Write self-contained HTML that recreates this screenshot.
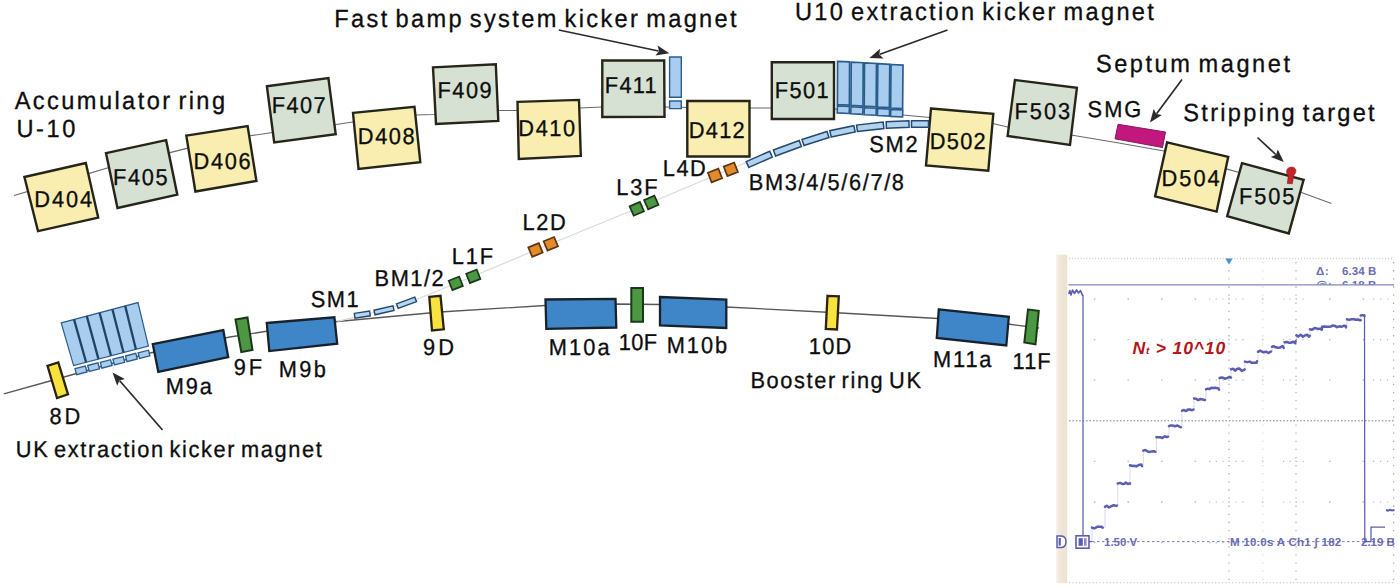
<!DOCTYPE html>
<html lang="en">
<head>
<meta charset="utf-8">
<title>U-10 accumulator ring and UK booster ring layout</title>
<style>
html,body{margin:0;padding:0;background:#fff;}
body{width:1400px;height:588px;overflow:hidden;position:relative;font-family:"Liberation Sans",sans-serif;}
svg{position:absolute;left:0;top:0;display:block;}
svg text{font-family:"Liberation Sans",sans-serif;fill:#0d0d0d;white-space:pre;text-rendering:geometricPrecision;stroke:#0d0d0d;stroke-width:0.3px;}
svg text.scope{fill:#5256a6;font-size:11.5px;font-weight:bold;stroke:none;opacity:.85;}
svg text.red{fill:#b3161b;font-weight:bold;font-style:italic;stroke:none;}
</style>
</head>
<body>
<svg width="1400" height="588" viewBox="0 0 1400 588">
<defs><linearGradient id="beige" x1="0" y1="0" x2="1" y2="0"><stop offset="0" stop-color="#f8f4ec"/><stop offset="0.35" stop-color="#efe7d8"/><stop offset="1" stop-color="#ebe2d0"/></linearGradient><clipPath id="clipTop"><rect x="1300" y="270" width="100" height="14.5"/></clipPath></defs>
<g id="diagram">
<polyline points="14.0,195.5 88.6,173.6 106.4,168.3 170.0,152.6 185.7,148.6 250.0,135.8 272.5,132.5 336.3,124.5 352.5,122.0 415.5,115.0 433.8,114.5 498.8,110.5 516.3,110.5 580.0,108.0 601.8,107.0 665.0,107.0 690.0,107.5 750.0,108.0 770.8,108.0 835.0,109.0 902.5,115.0 930.0,117.5 993.8,123.8 1007.5,127.0 1071.0,135.0 1116.0,142.5 1164.0,151.0 1228.0,169.4 1237.5,172.0 1301.5,192.6 1331.4,203.5" fill="none" stroke="#6a6a6a" stroke-width="1.1" />
<polyline points="3.8,393.8 50.0,381.0 110.0,364.0 150.0,353.0 230.0,337.0 300.0,326.0 337.5,321.5 440.0,312.0 545.0,305.5 616.0,304.0 660.0,304.5 726.0,307.0 832.0,312.5 938.0,318.5 1008.0,324.0 1039.0,328.0" fill="none" stroke="#585858" stroke-width="1.3" />
<polyline points="337.5,321.3 380.0,311.0 420.0,298.0 464.0,280.0 543.0,247.0 644.0,205.5 723.0,172.0 760.0,157.0" fill="none" stroke="#d9d9d9" stroke-width="1.2" />
<polygon points="24.4,177.0 85.8,163.0 98.2,217.6 38.0,231.1" fill="#f9edb0" stroke="#25251a" stroke-width="2.4" stroke-linejoin="miter"/>
<polygon points="106.0,153.1 166.1,140.2 177.3,194.7 117.5,208.0" fill="#d6e1d3" stroke="#25251a" stroke-width="2.4" stroke-linejoin="miter"/>
<polygon points="186.3,135.6 247.6,126.0 256.4,180.9 195.4,191.5" fill="#f9edb0" stroke="#25251a" stroke-width="2.4" stroke-linejoin="miter"/>
<polygon points="266.9,86.2 328.4,78.0 335.7,134.1 274.2,142.5" fill="#d6e1d3" stroke="#25251a" stroke-width="2.4" stroke-linejoin="miter"/>
<polygon points="353.0,112.9 414.5,106.8 420.3,162.1 358.5,169.0" fill="#f9edb0" stroke="#25251a" stroke-width="2.4" stroke-linejoin="miter"/>
<polygon points="433.0,67.4 495.8,64.3 498.3,120.9 436.0,124.0" fill="#d6e1d3" stroke="#25251a" stroke-width="2.4" stroke-linejoin="miter"/>
<polygon points="517.5,101.9 579.0,99.9 580.8,155.9 518.8,159.0" fill="#f9edb0" stroke="#25251a" stroke-width="2.4" stroke-linejoin="miter"/>
<polygon points="602.3,60.5 664.2,60.5 664.5,116.8 602.3,117.0" fill="#d6e1d3" stroke="#25251a" stroke-width="2.4" stroke-linejoin="miter"/>
<polygon points="687.3,101.0 749.5,101.0 749.5,156.5 687.3,156.5" fill="#f9edb0" stroke="#25251a" stroke-width="2.4" stroke-linejoin="miter"/>
<polygon points="771.8,62.3 834.0,62.3 834.0,119.0 771.8,119.0" fill="#d6e1d3" stroke="#25251a" stroke-width="2.4" stroke-linejoin="miter"/>
<polygon points="931.0,108.5 993.3,113.9 988.3,170.8 926.0,165.4" fill="#f9edb0" stroke="#25251a" stroke-width="2.4" stroke-linejoin="miter"/>
<polygon points="1014.9,80.0 1076.9,87.9 1070.0,145.0 1007.6,135.9" fill="#d6e1d3" stroke="#25251a" stroke-width="2.4" stroke-linejoin="miter"/>
<polygon points="1167.1,142.3 1228.2,156.9 1216.6,211.6 1155.1,196.4" fill="#f9edb0" stroke="#25251a" stroke-width="2.4" stroke-linejoin="miter"/>
<polygon points="1242.0,163.2 1303.6,179.8 1288.8,233.4 1227.2,216.2" fill="#d6e1d3" stroke="#25251a" stroke-width="2.4" stroke-linejoin="miter"/>
<polygon points="669.6,57.0 681.3,57.0 681.3,97.3 669.6,97.3" fill="#a9cdee" stroke="#2a5c8c" stroke-width="1.4" />
<polygon points="669.6,101.0 681.3,101.0 681.3,108.6 669.6,108.6" fill="#a9cdee" stroke="#2a5c8c" stroke-width="1.4" />
<polygon points="837.6,61.3 849.6,61.9 849.4,105.1 837.4,104.5" fill="#a9cdee" stroke="#2a5c8c" stroke-width="1.7" />
<polygon points="837.4,105.9 849.4,106.5 849.2,113.5 837.2,112.9" fill="#a9cdee" stroke="#2a5c8c" stroke-width="1.6" />
<polygon points="851.2,62.1 863.2,62.7 863.0,106.0 851.0,105.4" fill="#a9cdee" stroke="#2a5c8c" stroke-width="1.7" />
<polygon points="851.0,106.8 863.0,107.4 862.8,114.4 850.8,113.8" fill="#a9cdee" stroke="#2a5c8c" stroke-width="1.6" />
<polygon points="864.5,62.9 876.5,63.5 876.2,106.8 864.2,106.2" fill="#a9cdee" stroke="#2a5c8c" stroke-width="1.7" />
<polygon points="864.3,107.7 876.3,108.2 876.1,115.2 864.1,114.7" fill="#a9cdee" stroke="#2a5c8c" stroke-width="1.6" />
<polygon points="877.8,63.7 889.8,64.3 889.4,107.7 877.4,107.1" fill="#a9cdee" stroke="#2a5c8c" stroke-width="1.7" />
<polygon points="877.6,108.5 889.6,109.1 889.4,116.1 877.4,115.5" fill="#a9cdee" stroke="#2a5c8c" stroke-width="1.6" />
<polygon points="891.0,64.5 903.0,65.1 902.6,108.6 890.6,108.0" fill="#a9cdee" stroke="#2a5c8c" stroke-width="1.7" />
<polygon points="890.8,109.4 902.8,110.0 902.6,117.0 890.6,116.4" fill="#a9cdee" stroke="#2a5c8c" stroke-width="1.6" />
<polygon points="748.8,167.4 772.3,157.1 769.7,151.3 746.2,161.6" fill="#b2d3ef" stroke="#234a6e" stroke-width="1.5" />
<polygon points="775.6,156.0 801.4,146.5 799.2,140.5 773.4,150.0" fill="#b2d3ef" stroke="#234a6e" stroke-width="1.5" />
<polygon points="804.0,145.5 829.0,137.5 827.0,131.5 802.0,139.5" fill="#b2d3ef" stroke="#234a6e" stroke-width="1.5" />
<polygon points="831.2,136.9 855.2,131.9 853.8,125.7 829.8,130.7" fill="#b2d3ef" stroke="#234a6e" stroke-width="1.5" />
<polygon points="857.4,131.5 883.9,128.5 883.1,122.1 856.6,125.1" fill="#b2d3ef" stroke="#234a6e" stroke-width="1.5" />
<polygon points="886.4,128.2 909.1,127.2 908.9,120.8 886.2,121.8" fill="#b2d3ef" stroke="#234a6e" stroke-width="1.5" />
<polygon points="911.5,127.2 928.5,127.2 928.5,120.8 911.5,120.8" fill="#b2d3ef" stroke="#234a6e" stroke-width="1.5" />
<polygon points="1118.0,124.3 1165.5,132.0 1162.5,147.5 1115.0,138.8" fill="#c2187d" stroke="#8a1560" stroke-width="1" />
<path d="M1287.3,183.5 L1288.3,175.5 C1285.5,173 1286,167.5 1291,167 C1296,166.7 1297.5,171.5 1294,175 L1292.3,183.8 Z" fill="#c3262a" stroke="#8b1a1a" stroke-width="0.6"/>
<polygon points="707.9,172.8 718.4,168.7 722.1,178.2 711.6,182.3" fill="#e28b2a" stroke="#5e3510" stroke-width="1.7" />
<polygon points="723.7,166.6 734.2,162.5 737.9,172.0 727.4,176.1" fill="#e28b2a" stroke="#5e3510" stroke-width="1.7" />
<polygon points="629.6,206.4 639.9,201.9 644.0,211.2 633.7,215.7" fill="#4c9742" stroke="#1c381a" stroke-width="1.7" />
<polygon points="644.1,200.1 654.4,195.6 658.5,204.9 648.2,209.4" fill="#4c9742" stroke="#1c381a" stroke-width="1.7" />
<polygon points="528.3,247.4 538.8,243.2 542.7,252.6 532.2,256.8" fill="#e28b2a" stroke="#5e3510" stroke-width="1.7" />
<polygon points="543.6,241.2 554.1,237.0 558.0,246.4 547.5,250.6" fill="#e28b2a" stroke="#5e3510" stroke-width="1.7" />
<polygon points="448.7,280.7 459.2,276.5 462.9,285.9 452.4,290.1" fill="#4c9742" stroke="#1c381a" stroke-width="1.7" />
<polygon points="466.2,273.7 476.7,269.5 480.4,278.9 469.9,283.1" fill="#4c9742" stroke="#1c381a" stroke-width="1.7" />
<polygon points="354.3,313.4 369.6,311.0 370.3,315.8 355.0,318.2" fill="#b6d6f1" stroke="#23486b" stroke-width="1.4" />
<polygon points="374.0,310.2 393.0,305.8 394.0,310.4 375.0,314.8" fill="#b6d6f1" stroke="#23486b" stroke-width="1.4" />
<polygon points="396.5,303.9 414.8,297.2 416.5,301.7 398.2,308.4" fill="#b6d6f1" stroke="#23486b" stroke-width="1.4" />
<polygon points="47.5,365.8 58.3,362.5 68.0,394.3 57.0,398.0" fill="#f7e23e" stroke="#2a2212" stroke-width="2.3" />
<polygon points="61.2,322.8 138.0,302.6 148.4,346.0 73.6,365.6" fill="#a9cdee" stroke="#2a5c8c" stroke-width="1.2" />
<line x1="74.0" y1="319.4" x2="86.1" y2="362.3" stroke="#1d4562" stroke-width="2.3"/>
<line x1="86.8" y1="316.1" x2="98.5" y2="359.1" stroke="#1d4562" stroke-width="2.3"/>
<line x1="99.6" y1="312.7" x2="111.0" y2="355.8" stroke="#1d4562" stroke-width="2.3"/>
<line x1="112.4" y1="309.3" x2="123.5" y2="352.5" stroke="#1d4562" stroke-width="2.3"/>
<line x1="125.2" y1="306.0" x2="135.9" y2="349.3" stroke="#1d4562" stroke-width="2.3"/>
<polygon points="75.0,368.7 85.4,366.1 87.0,372.0 76.6,374.7" fill="#a9cdee" stroke="#2a5c8c" stroke-width="1.3" />
<polygon points="87.7,365.5 98.0,362.9 99.5,368.8 89.2,371.5" fill="#a9cdee" stroke="#2a5c8c" stroke-width="1.3" />
<polygon points="100.3,362.3 110.6,359.7 112.1,365.5 101.8,368.2" fill="#a9cdee" stroke="#2a5c8c" stroke-width="1.3" />
<polygon points="112.9,359.2 123.2,356.6 124.7,362.3 114.4,365.0" fill="#a9cdee" stroke="#2a5c8c" stroke-width="1.3" />
<polygon points="125.5,356.0 135.8,353.4 137.3,359.0 127.0,361.7" fill="#a9cdee" stroke="#2a5c8c" stroke-width="1.3" />
<polygon points="138.1,352.8 148.5,350.2 149.9,355.8 139.5,358.5" fill="#a9cdee" stroke="#2a5c8c" stroke-width="1.3" />
<polygon points="152.8,344.2 223.3,330.2 228.2,357.2 158.3,371.9" fill="#3f86c9" stroke="#18222c" stroke-width="2.3" />
<polygon points="235.5,319.5 247.5,317.5 252.5,350.0 241.3,352.0" fill="#4c9742" stroke="#1c381a" stroke-width="2.0" />
<polygon points="266.8,323.0 334.4,317.3 337.2,343.7 269.3,351.1" fill="#3f86c9" stroke="#18222c" stroke-width="2.3" />
<polygon points="429.3,296.8 440.5,295.8 443.8,329.3 432.0,330.5" fill="#f7e23e" stroke="#2a2212" stroke-width="2.3" />
<polygon points="545.5,299.5 615.5,298.8 616.3,327.5 546.3,328.8" fill="#3f86c9" stroke="#18222c" stroke-width="2.3" />
<polygon points="631.3,288.0 643.0,288.0 643.0,321.8 631.3,321.8" fill="#4c9742" stroke="#1c381a" stroke-width="2.0" />
<polygon points="660.0,297.0 726.3,299.5 726.3,328.0 660.0,325.5" fill="#3f86c9" stroke="#18222c" stroke-width="2.3" />
<polygon points="827.5,295.8 838.8,296.3 837.0,329.5 825.8,328.8" fill="#f7e23e" stroke="#2a2212" stroke-width="2.3" />
<polygon points="938.8,309.3 1008.8,316.8 1006.3,345.5 936.8,338.0" fill="#3f86c9" stroke="#18222c" stroke-width="2.3" />
<polygon points="1028.0,309.5 1038.8,310.8 1035.5,344.3 1024.3,342.5" fill="#4c9742" stroke="#1c381a" stroke-width="2.0" />
<line x1="558.8" y1="30.0" x2="658.5" y2="51.0" stroke="#2b2b2b" stroke-width="1.7"/>
<polygon points="669.3,53.3 655.5,55.6 659.0,51.1 657.6,45.6" fill="#2b2b2b"/>
<line x1="947.5" y1="30.0" x2="879.9" y2="54.3" stroke="#2b2b2b" stroke-width="1.7"/>
<polygon points="869.5,58.0 880.0,48.8 879.4,54.5 883.5,58.4" fill="#2b2b2b"/>
<line x1="1182.0" y1="79.5" x2="1156.6" y2="113.7" stroke="#2b2b2b" stroke-width="1.7"/>
<polygon points="1150.0,122.5 1153.7,109.0 1156.3,114.1 1161.9,115.1" fill="#2b2b2b"/>
<line x1="1257.5" y1="137.5" x2="1275.8" y2="154.5" stroke="#2b2b2b" stroke-width="1.7"/>
<polygon points="1283.8,162.0 1270.8,156.9 1276.1,154.8 1277.8,149.4" fill="#2b2b2b"/>
<line x1="162.5" y1="430.0" x2="119.7" y2="380.8" stroke="#2b2b2b" stroke-width="1.7"/>
<polygon points="112.5,372.5 124.9,379.0 119.4,380.4 117.2,385.7" fill="#2b2b2b"/>
<text transform="translate(34.3,207.4) scale(1,1.055)" font-size="21.8" style="letter-spacing:1.93px;word-spacing:0.0px" >D404</text>
<text transform="translate(113.1,185.4) scale(1,1.055)" font-size="21.8" style="letter-spacing:1.62px;word-spacing:0.0px" >F405</text>
<text transform="translate(193.6,169.0) scale(1,1.055)" font-size="21.8" style="letter-spacing:1.67px;word-spacing:0.0px" >D406</text>
<text transform="translate(271.8,113.4) scale(1,1.055)" font-size="21.8" style="letter-spacing:1.39px;word-spacing:0.0px" >F407</text>
<text transform="translate(357.8,143.7) scale(1,1.055)" font-size="21.8" style="letter-spacing:1.60px;word-spacing:0.0px" >D408</text>
<text transform="translate(437.6,97.9) scale(1,1.055)" font-size="21.8" style="letter-spacing:1.46px;word-spacing:0.0px" >F409</text>
<text transform="translate(518.3,135.9) scale(1,1.055)" font-size="21.8" style="letter-spacing:1.60px;word-spacing:0.0px" >D410</text>
<text transform="translate(604.8,93.4) scale(1,1.055)" font-size="21.8" style="letter-spacing:1.27px;word-spacing:0.0px" >F411</text>
<text transform="translate(688.8,137.9) scale(1,1.055)" font-size="21.8" style="letter-spacing:1.27px;word-spacing:0.0px" >D412</text>
<text transform="translate(774.8,98.4) scale(1,1.055)" font-size="21.8" style="letter-spacing:1.39px;word-spacing:0.0px" >F501</text>
<text transform="translate(929.8,149.2) scale(1,1.055)" font-size="21.8" style="letter-spacing:1.27px;word-spacing:0.0px" >D502</text>
<text transform="translate(1014.6,119.2) scale(1,1.055)" font-size="21.8" style="letter-spacing:1.96px;word-spacing:0.0px" >F503</text>
<text transform="translate(1161.4,186.2) scale(1,1.055)" font-size="21.8" style="letter-spacing:2.07px;word-spacing:0.0px" >D504</text>
<text transform="translate(1239.0,204.4) scale(1,1.055)" font-size="21.8" style="letter-spacing:1.92px;word-spacing:0.0px" >F505</text>
<text transform="translate(1087.6,116.7) scale(1,1.055)" font-size="21.8" style="letter-spacing:2.00px;word-spacing:0.0px" >SMG</text>
<text transform="translate(869.3,151.7) scale(1,1.055)" font-size="21.8" style="letter-spacing:1.78px;word-spacing:0.0px" >SM2</text>
<text transform="translate(748.8,190.4) scale(1,1.055)" font-size="21.8" style="letter-spacing:1.62px;word-spacing:0.0px" >BM3/4/5/6/7/8</text>
<text transform="translate(662.8,176.4) scale(1,1.055)" font-size="21.8" style="letter-spacing:1.46px;word-spacing:0.0px" >L4D</text>
<text transform="translate(616.3,194.7) scale(1,1.055)" font-size="21.8" style="letter-spacing:1.90px;word-spacing:0.0px" >L3F</text>
<text transform="translate(522.6,229.9) scale(1,1.055)" font-size="21.8" style="letter-spacing:1.56px;word-spacing:0.0px" >L2D</text>
<text transform="translate(451.8,264.2) scale(1,1.055)" font-size="21.8" style="letter-spacing:1.90px;word-spacing:0.0px" >L1F</text>
<text transform="translate(374.6,286.2) scale(1,1.055)" font-size="21.8" style="letter-spacing:1.53px;word-spacing:0.0px" >BM1/2</text>
<text transform="translate(310.8,306.7) scale(1,1.055)" font-size="21.8" style="letter-spacing:1.53px;word-spacing:0.0px" >SM1</text>
<text transform="translate(49.6,424.2) scale(1,1.055)" font-size="21.8" style="letter-spacing:2.75px;word-spacing:0.0px" >8D</text>
<text transform="translate(165.8,394.2) scale(1,1.055)" font-size="21.8" style="letter-spacing:1.86px;word-spacing:0.0px" >M9a</text>
<text transform="translate(233.8,375.4) scale(1,1.055)" font-size="21.8" style="letter-spacing:2.73px;word-spacing:0.0px" >9F</text>
<text transform="translate(278.8,377.4) scale(1,1.055)" font-size="21.8" style="letter-spacing:2.28px;word-spacing:0.0px" >M9b</text>
<text transform="translate(423.1,354.9) scale(1,1.055)" font-size="21.8" style="letter-spacing:3.05px;word-spacing:0.0px" >9D</text>
<text transform="translate(548.8,355.4) scale(1,1.055)" font-size="21.8" style="letter-spacing:2.08px;word-spacing:0.0px" >M10a</text>
<text transform="translate(618.8,350.4) scale(1,1.055)" font-size="21.8" style="letter-spacing:0.30px;word-spacing:0.0px" >10F</text>
<text transform="translate(666.8,352.9) scale(1,1.055)" font-size="21.8" style="letter-spacing:1.91px;word-spacing:0.0px" >M10b</text>
<text transform="translate(808.8,354.2) scale(1,1.055)" font-size="21.8" style="letter-spacing:1.21px;word-spacing:0.0px" >10D</text>
<text transform="translate(933.1,367.2) scale(1,1.055)" font-size="21.8" style="letter-spacing:1.81px;word-spacing:0.0px" >M11a</text>
<text transform="translate(1012.6,368.7) scale(1,1.055)" font-size="21.8" style="letter-spacing:1.06px;word-spacing:0.0px" >11F</text>
<text transform="translate(334.3,27.0) scale(1,1.055)" font-size="23.6" style="letter-spacing:2.35px;word-spacing:-3.0px" >Fast bamp system kicker magnet</text>
<text transform="translate(794.9,19.9) scale(1,1.055)" font-size="23.6" style="letter-spacing:2.31px;word-spacing:-3.0px" >U10 extraction kicker magnet</text>
<text transform="translate(1095.9,71.9) scale(1,1.055)" font-size="23.6" style="letter-spacing:2.54px;word-spacing:-3.0px" >Septum magnet</text>
<text transform="translate(1183.3,121.2) scale(1,1.055)" font-size="23.6" style="letter-spacing:2.29px;word-spacing:-3.0px" >Stripping target</text>
<text transform="translate(14.7,108.9) scale(1,1.055)" font-size="23.6" style="letter-spacing:2.42px;word-spacing:-3.0px" >Accumulator ring</text>
<text transform="translate(16.5,136.9) scale(1,1.055)" font-size="23.6" style="letter-spacing:2.55px;word-spacing:0.0px" >U-10</text>
<text transform="translate(15.8,456.8) scale(1,1.055)" font-size="21.8" style="letter-spacing:1.63px;word-spacing:-3.0px" >UK extraction kicker magnet</text>
<text transform="translate(750.4,387.8) scale(1,1.055)" font-size="21.8" style="letter-spacing:1.62px;word-spacing:-3.0px" >Booster ring UK</text>
</g>
<g id="scope">
<rect x="1056" y="254.6" width="11.2" height="328.6" fill="url(#beige)"/>
<line x1="1069" y1="258.4" x2="1394" y2="258.4" stroke="#c9cad2" stroke-width="1.5" stroke-dasharray="1 1.9"/>
<line x1="1069" y1="582.6" x2="1394" y2="582.6" stroke="#c4c6d4" stroke-width="1.2" stroke-dasharray="1 2.4"/>
<path d="M1093.9,299.0 h1.4 M1127.5,299.0 h1.4 M1161.1,299.0 h1.4 M1194.7,299.0 h1.4 M1228.3,299.0 h1.4 M1261.9,299.0 h1.4 M1295.5,299.0 h1.4 M1329.1,299.0 h1.4 M1362.7,299.0 h1.4" stroke="#9a9ec0" stroke-width="1.3" opacity=".75"/>
<path d="M1209.0,299.0 h1.2 M1215.7,299.0 h1.2 M1222.4,299.0 h1.2 M1235.5,299.0 h1.2 M1242.2,299.0 h1.2 M1283.0,299.0 h1.2 M1289.5,299.0 h1.2 M1302.5,299.0 h1.2 M1373.0,299.0 h1.2 M1380.0,299.0 h1.2 M1387.0,299.0 h1.2" stroke="#8086b0" stroke-width="1.2" opacity=".6"/>
<path d="M1093.9,339.6 h1.4 M1127.5,339.6 h1.4 M1161.1,339.6 h1.4 M1194.7,339.6 h1.4 M1228.3,339.6 h1.4 M1261.9,339.6 h1.4 M1295.5,339.6 h1.4 M1329.1,339.6 h1.4 M1362.7,339.6 h1.4" stroke="#9a9ec0" stroke-width="1.3" opacity=".75"/>
<path d="M1209.0,339.6 h1.2 M1215.7,339.6 h1.2 M1222.4,339.6 h1.2 M1235.5,339.6 h1.2 M1242.2,339.6 h1.2 M1283.0,339.6 h1.2 M1289.5,339.6 h1.2 M1302.5,339.6 h1.2 M1373.0,339.6 h1.2 M1380.0,339.6 h1.2 M1387.0,339.6 h1.2" stroke="#8086b0" stroke-width="1.2" opacity=".6"/>
<path d="M1093.9,380.2 h1.4 M1127.5,380.2 h1.4 M1161.1,380.2 h1.4 M1194.7,380.2 h1.4 M1228.3,380.2 h1.4 M1261.9,380.2 h1.4 M1295.5,380.2 h1.4 M1329.1,380.2 h1.4 M1362.7,380.2 h1.4" stroke="#9a9ec0" stroke-width="1.3" opacity=".75"/>
<path d="M1209.0,380.2 h1.2 M1215.7,380.2 h1.2 M1222.4,380.2 h1.2 M1235.5,380.2 h1.2 M1242.2,380.2 h1.2 M1283.0,380.2 h1.2 M1289.5,380.2 h1.2 M1302.5,380.2 h1.2 M1373.0,380.2 h1.2 M1380.0,380.2 h1.2 M1387.0,380.2 h1.2" stroke="#8086b0" stroke-width="1.2" opacity=".6"/>
<path d="M1093.9,461.4 h1.4 M1127.5,461.4 h1.4 M1161.1,461.4 h1.4 M1194.7,461.4 h1.4 M1228.3,461.4 h1.4 M1261.9,461.4 h1.4 M1295.5,461.4 h1.4 M1329.1,461.4 h1.4 M1362.7,461.4 h1.4" stroke="#9a9ec0" stroke-width="1.3" opacity=".75"/>
<path d="M1209.0,461.4 h1.2 M1215.7,461.4 h1.2 M1222.4,461.4 h1.2 M1235.5,461.4 h1.2 M1242.2,461.4 h1.2 M1283.0,461.4 h1.2 M1289.5,461.4 h1.2 M1302.5,461.4 h1.2 M1373.0,461.4 h1.2 M1380.0,461.4 h1.2 M1387.0,461.4 h1.2" stroke="#8086b0" stroke-width="1.2" opacity=".6"/>
<path d="M1093.9,502.0 h1.4 M1127.5,502.0 h1.4 M1161.1,502.0 h1.4 M1194.7,502.0 h1.4 M1228.3,502.0 h1.4 M1261.9,502.0 h1.4 M1295.5,502.0 h1.4 M1329.1,502.0 h1.4 M1362.7,502.0 h1.4" stroke="#9a9ec0" stroke-width="1.3" opacity=".75"/>
<path d="M1209.0,502.0 h1.2 M1215.7,502.0 h1.2 M1222.4,502.0 h1.2 M1235.5,502.0 h1.2 M1242.2,502.0 h1.2 M1283.0,502.0 h1.2 M1289.5,502.0 h1.2 M1302.5,502.0 h1.2 M1373.0,502.0 h1.2 M1380.0,502.0 h1.2 M1387.0,502.0 h1.2" stroke="#8086b0" stroke-width="1.2" opacity=".6"/>
<path d="M1093.9,542.6 h1.4 M1127.5,542.6 h1.4 M1161.1,542.6 h1.4 M1194.7,542.6 h1.4 M1228.3,542.6 h1.4 M1261.9,542.6 h1.4 M1295.5,542.6 h1.4 M1329.1,542.6 h1.4 M1362.7,542.6 h1.4" stroke="#9a9ec0" stroke-width="1.3" opacity=".75"/>
<path d="M1209.0,542.6 h1.2 M1215.7,542.6 h1.2 M1222.4,542.6 h1.2 M1235.5,542.6 h1.2 M1242.2,542.6 h1.2 M1283.0,542.6 h1.2 M1289.5,542.6 h1.2 M1302.5,542.6 h1.2 M1373.0,542.6 h1.2 M1380.0,542.6 h1.2 M1387.0,542.6 h1.2" stroke="#8086b0" stroke-width="1.2" opacity=".6"/>
<line x1="1069" y1="420.8" x2="1394" y2="420.8" stroke="#7a80a6" stroke-width="1" stroke-dasharray="1.6 1.8"/>
<line x1="1229.0" y1="262" x2="1229.0" y2="580" stroke="#8a90b8" stroke-width="1.1" stroke-dasharray="1.3 6.82" opacity="0.85"/>
<line x1="1296.0" y1="262" x2="1296.0" y2="580" stroke="#8a90b8" stroke-width="1.1" stroke-dasharray="1.3 6.82" opacity="0.80"/>
<line x1="1393.6" y1="262" x2="1393.6" y2="580" stroke="#8a90b8" stroke-width="1.1" stroke-dasharray="1.3 6.82" opacity="0.85"/>
<line x1="1262.8" y1="262" x2="1262.8" y2="580" stroke="#8a90b8" stroke-width="1.1" stroke-dasharray="1.3 6.82" opacity="0.35"/>
<line x1="1068.4" y1="284.9" x2="1394" y2="284.9" stroke="#8487b9" stroke-width="1.4"/>
<line x1="1087" y1="541.6" x2="1394" y2="541.6" stroke="#5a5eae" stroke-width="1" stroke-dasharray="2.5 2.5" opacity=".8"/>
<polyline points="1068.8,294.0 1069.8,290.5 1071.0,295.0 1072.5,290.0 1074.5,293.5 1076.5,289.8 1078.5,293.0 1080.5,290.5 1082.0,294.0 1083.0,296.0" fill="none" stroke="#5a5eae" stroke-width="1.6" stroke-linejoin="round"/>
<polyline points="1082.0,294.0 1083.0,296.0 1083.0,541.5 1092.0,541.5" fill="none" stroke="#5a5eae" stroke-width="1.25"/>
<path d="M1092.0,541.5 V527.8 M1105.0,527.8 V506.4 M1117.8,506.4 V483.7 M1130.0,483.7 V465.5 M1143.3,465.5 V451.0 M1156.4,451.0 V436.8 M1169.0,436.8 V426.5 M1182.0,426.5 V410.2 M1194.0,410.2 V399.0 M1206.0,399.0 V388.8 M1219.5,388.8 V378.0 M1231.0,378.0 V369.6 M1245.0,369.6 V362.0 M1258.0,362.0 V351.8 M1272.0,351.8 V347.0 M1284.6,347.0 V342.0 M1296.4,342.0 V335.6 M1310.0,335.6 V328.8 M1322.0,328.8 V326.7 M1347.0,326.7 V319.3 M1360.7,319.3 V315.0" fill="none" stroke="#5a5eae" stroke-width="0.8" opacity=".3"/>
<path d="M1092.0,527.6 L1093.8,528.2 L1095.4,527.9 L1097.4,526.7 L1099.5,526.7 L1101.5,526.8 L1102.7,527.6 M1105.0,506.8 L1106.7,505.7 L1109.0,507.5 L1111.1,506.2 L1113.7,505.3 L1116.2,505.9 L1117.0,505.5 M1117.8,483.5 L1120.2,482.9 L1122.4,484.0 L1124.4,483.8 L1126.0,482.6 L1127.8,484.1 L1129.9,483.3 L1130.0,483.6 M1130.0,465.3 L1132.4,466.0 L1134.2,465.7 L1136.4,466.4 L1138.7,465.0 L1141.3,464.6 L1142.0,466.1 M1143.3,450.6 L1145.4,449.9 L1147.7,451.6 L1149.8,451.9 L1151.7,451.5 L1153.9,451.2 L1155.5,451.8 M1156.4,437.3 L1158.5,437.2 L1160.1,437.3 L1162.4,438.0 L1164.8,436.3 L1166.8,437.2 L1168.0,436.7 M1169.0,426.1 L1170.7,425.4 L1173.1,425.6 L1174.9,426.2 L1177.4,425.5 L1179.5,426.6 L1181.0,427.3 M1182.0,410.6 L1183.9,410.0 L1185.8,411.1 L1188.4,409.4 L1190.2,409.6 L1192.0,410.2 L1193.5,409.6 M1194.0,398.4 L1196.0,398.7 L1198.2,400.1 L1200.5,399.0 L1202.7,399.4 L1204.3,400.0 L1205.0,399.9 M1206.0,389.2 L1208.0,388.6 L1209.7,389.1 L1211.4,387.8 L1213.2,388.0 L1215.1,387.7 L1216.7,388.0 L1218.4,388.5 L1219.0,389.7 M1219.5,378.1 L1221.2,377.4 L1223.2,377.7 L1224.9,378.8 L1227.5,377.9 L1229.6,377.0 L1231.0,377.6 M1231.0,369.3 L1233.4,368.8 L1235.1,370.7 L1237.2,368.8 L1239.3,368.5 L1241.5,370.7 L1243.9,370.1 L1244.7,369.3 M1245.0,361.6 L1247.4,362.1 L1249.8,361.6 L1251.6,362.7 L1254.2,362.8 L1256.6,362.8 L1257.0,361.3 M1258.0,351.8 L1260.0,350.7 L1261.6,351.3 L1263.4,352.3 L1266.0,351.7 L1268.5,353.0 L1271.0,351.5 M1272.0,346.7 L1273.8,346.3 L1275.6,347.3 L1278.1,347.8 L1280.2,347.4 L1282.6,346.0 L1283.7,348.0 M1284.6,342.3 L1287.0,341.9 L1288.7,342.7 L1290.7,342.7 L1293.2,341.8 L1295.2,343.1 L1295.6,341.2 M1296.4,335.2 L1298.2,336.6 L1300.6,334.8 L1303.0,336.8 L1305.2,335.2 L1307.4,334.7 L1309.0,336.7 L1309.8,335.7 M1310.0,329.3 L1312.0,329.7 L1314.5,328.1 L1316.3,328.3 L1318.2,329.0 L1320.0,328.6 L1321.7,329.8 L1322.0,328.7 M1322.0,326.8 L1324.5,326.5 L1327.0,326.7 L1329.2,326.8 L1330.8,326.6 L1332.6,325.5 L1335.0,325.9 L1337.0,327.2 L1339.2,326.3 L1341.3,326.8 L1343.7,325.8 L1345.8,326.1 L1346.0,327.4 M1347.0,319.3 L1349.2,319.9 L1351.7,319.2 L1353.9,319.3 L1356.0,319.8 L1358.1,319.4 L1360.1,320.4 L1360.7,320.2 M1360.7,315.5 L1362.6,315.1 L1364.5,315.8" fill="none" stroke="#5a5eae" stroke-width="2.5" stroke-linejoin="round" stroke-linecap="round"/>
<polyline points="1364.5,314 1364.8,541.5 1371,541.5 1371,527 1385,527" fill="none" stroke="#5a5eae" stroke-width="1.25"/>
<path d="M1386,510 l2,0.6 l2,-0.8 l2,0.7 l2.5,-0.5" fill="none" stroke="#5a5eae" stroke-width="2.1"/>
<polygon points="1225.3,258.5 1232.7,258.5 1229,264.5" fill="#4a90d9"/>
<rect x="1076" y="535.8" width="13" height="12.4" fill="#fff" stroke="#5a5eae" stroke-width="1.6"/>
<rect x="1078.6" y="538.2" width="4.2" height="7.6" fill="#5a5eae"/><rect x="1084" y="538.2" width="2.6" height="7.6" fill="#5a5eae" opacity=".7"/>
<path d="M1057,536 h4.5 q4.5,0.5 4.5,5.8 q0,5.3 -4.5,5.8 h-4.5 z" fill="#fff" stroke="#5a5eae" stroke-width="1.5"/><rect x="1058.6" y="538" width="2.2" height="7.6" fill="#5a5eae"/>
<text class="red" x="1132.5" y="354" font-size="17.6" style="letter-spacing:0.8px">N<tspan font-size="10">t</tspan> &gt; 10^10</text>
<text class="scope" x="1316" y="274.5" style="letter-spacing:0.8px">Δ:</text>
<text class="scope" x="1342" y="274.5" style="letter-spacing:0.1px">6.34 B</text>
<g clip-path="url(#clipTop)"><text class="scope" x="1316" y="288.5" style="letter-spacing:0.8px">@:</text>
<text class="scope" x="1342" y="288.5" style="letter-spacing:0.1px">6.18 B</text></g>
<text class="scope" x="1104" y="546" style="letter-spacing:0px">1.50 V</text>
<text class="scope" x="1230" y="546" style="letter-spacing:0.3px">M 10.0s A Ch1 ∫ 182</text>
<text class="scope" x="1361" y="546" style="letter-spacing:0px">2.19 B</text>
</g>
</svg>
</body>
</html>
